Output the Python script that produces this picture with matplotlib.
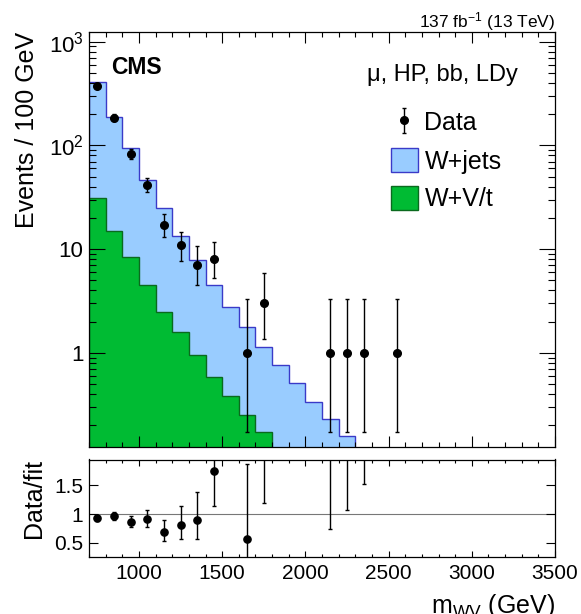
import matplotlib
matplotlib.use("Agg")
import numpy as np
import matplotlib.pyplot as plt
from matplotlib.patches import Patch
from matplotlib.ticker import MultipleLocator, LogLocator, FuncFormatter, NullFormatter, FixedLocator

plt.rcParams["font.family"] = ["Liberation Sans", "DejaVu Sans"]
plt.rcParams["mathtext.fontset"] = "custom"
plt.rcParams["mathtext.rm"] = "Liberation Sans"
plt.rcParams["mathtext.it"] = "Liberation Sans:italic"
plt.rcParams["mathtext.bf"] = "Liberation Sans:bold"
plt.rcParams["mathtext.default"] = "regular"

# -------------------------------------------------------
# Values
# -------------------------------------------------------
bin_edges = np.arange(700, 2400, 100)          # W+jets template, 700-2300
wvt_edges = np.arange(700, 1900, 100)          # W+V/t template, 700-1800

wjets = [374, 173.9, 85.65, 41.45, 22.22, 11.92, 6.84, 3.96,
         2.367, 1.507, 0.967, 0.757, 0.508, 0.34, 0.232, 0.16]
wvt = [31, 15.1, 8.35, 4.55, 2.48, 1.58, 0.96, 0.59, 0.383, 0.253, 0.173]

data_x = [750, 850, 950, 1050, 1150, 1250, 1350, 1450, 1650, 1750, 2150, 2250, 2350, 2550]
data_n = [376, 185, 82, 42, 17, 11, 7, 8, 1, 3, 1, 1, 1, 1]
data_lo = [357, 172, 73.4, 35.6, 13.0, 7.7, 4.5, 5.3, 0.173, 1.37, 0.173, 0.173, 0.173, 0.173]
data_hi = [396, 199, 91.6, 49.0, 21.6, 14.8, 10.7, 11.8, 3.30, 5.92, 3.30, 3.30, 3.30, 3.30]

ratio_x = [750, 850, 950, 1050, 1150, 1250, 1350, 1450, 1650, 1750, 2150, 2250, 2350]
ratio_y = [0.925, 0.97, 0.862, 0.914, 0.695, 0.816, 0.90, 1.747, 0.569, 2.63, 4.3, 6.25, 9.0]
ratio_lo = [0.88, 0.90, 0.77, 0.77, 0.53, 0.575, 0.57, 1.14, 0.10, 1.20, 0.74, 1.074, 1.53]
ratio_hi = [0.97, 1.03, 0.97, 1.07, 0.90, 1.14, 1.38, 2.40, 1.88, 5.2, 14.2, 20.6, 29.0]

# -------------------------------------------------------
# Style
# -------------------------------------------------------
BLUE_FILL = "#99ccff"
BLUE_LINE = "#3a3ac8"
GREEN_FILL = "#00bb33"
GREEN_LINE = "#0a6a1e"

W, H = 581, 614
fig = plt.figure(figsize=(W / 100, H / 100), dpi=100)
ax = fig.add_axes([89 / W, 1 - 447 / H, 466 / W, 415 / H])
axr = fig.add_axes([89 / W, 1 - 557.3 / H, 466 / W, 97.8 / H], sharex=ax)

# -------------------------------------------------------
# Top panel: stacked templates + data
# -------------------------------------------------------
wvt_full = np.zeros(len(wjets))
wvt_full[:len(wvt)] = wvt
stack_top = np.array(wjets) + wvt_full
base = 1e-3

ax.stairs(stack_top, bin_edges, baseline=base, fill=True, color=BLUE_FILL, lw=0)
ax.stairs(stack_top, bin_edges, baseline=base, fill=False, color=BLUE_LINE, lw=1.0)
ax.stairs(wvt, wvt_edges, baseline=base, fill=True, color=GREEN_FILL, lw=0)
ax.stairs(wvt, wvt_edges, baseline=base, fill=False, color=GREEN_LINE, lw=1.0)

yerr = [np.array(data_n) - np.array(data_lo), np.array(data_hi) - np.array(data_n)]
eb = ax.errorbar(data_x, data_n, yerr=yerr, fmt="o", color="black", ms=5.5,
                 elinewidth=1.0, capsize=1.5, capthick=1.0, zorder=5)

ax.set_yscale("log")
ax.set_xlim(700, 3500)
ax.set_ylim(0.124, 1240)

def log_label(v, pos):
    if abs(v - 1) < 1e-6:
        return "1"
    if abs(v - 10) < 1e-6:
        return "10"
    return "$10^{%d}$" % int(round(np.log10(v)))

ax.yaxis.set_major_locator(LogLocator(base=10, numticks=10))
ax.yaxis.set_minor_locator(LogLocator(base=10, subs=np.arange(2, 10), numticks=10))
ax.yaxis.set_major_formatter(FuncFormatter(log_label))
ax.yaxis.set_minor_formatter(NullFormatter())
ax.xaxis.set_major_locator(MultipleLocator(500))
ax.xaxis.set_minor_locator(MultipleLocator(100))

ax.tick_params(axis="both", which="both", direction="in", top=True, right=True,
               width=0.8, labelbottom=False)
ax.tick_params(axis="y", which="major", length=11.3, labelsize=16, pad=4)
ax.tick_params(axis="y", which="minor", length=5.3)
ax.tick_params(axis="x", which="major", length=7.9)
ax.tick_params(axis="x", which="minor", length=3.8)
for sp in ax.spines.values():
    sp.set_linewidth(0.9)

ax.set_ylabel("Events / 100 GeV", fontsize=18, loc="top", labelpad=7)

ax.text(0.0472, 0.8988, "CMS", transform=ax.transAxes, fontsize=16.5,
        fontweight="bold", ha="left", va="baseline")
ax.text(0.9213, 0.8827, "\u03bc, HP, bb, LDy", transform=ax.transAxes, fontsize=17,
        ha="right", va="baseline")
ax.text(1.0, 1.0113, "137 fb$^{-1}$ (13 TeV)", transform=ax.transAxes, fontsize=12.5,
        ha="right", va="baseline")

handles = [eb,
           Patch(facecolor=BLUE_FILL, edgecolor=BLUE_LINE, lw=1.0),
           Patch(facecolor=GREEN_FILL, edgecolor=GREEN_LINE, lw=1.0)]
labels = ["Data", "W+jets", "W+V/t"]
fig.legend(handles, labels, loc="upper left", bbox_to_anchor=(390.7 / W, 1 - 110 / H),
           frameon=False, fontsize=18, handlelength=1.1, handleheight=1.1,
           handletextpad=0.25, labelspacing=0.5, borderpad=0, borderaxespad=0)

# -------------------------------------------------------
# Ratio panel
# -------------------------------------------------------
axr.axhline(1.0, color="#777777", lw=0.8, zorder=1)
ryerr = [np.array(ratio_y) - np.array(ratio_lo), np.array(ratio_hi) - np.array(ratio_y)]
axr.errorbar(ratio_x, ratio_y, yerr=ryerr, fmt="o", color="black", ms=5.2,
             elinewidth=1.0, capsize=1.5, capthick=1.0, zorder=5)

axr.set_ylim(0.25, 1.95)
axr.yaxis.set_major_locator(FixedLocator([0.5, 1.0, 1.5]))
axr.yaxis.set_major_formatter(FuncFormatter(lambda v, p: "%g" % v))
axr.tick_params(axis="both", which="both", direction="in", top=True, right=True, width=0.8)
axr.tick_params(axis="y", which="major", length=6.2, labelsize=15, pad=4)
axr.tick_params(axis="x", which="major", length=4.1, labelsize=15, pad=5)
axr.tick_params(axis="x", which="minor", length=2.5)
for sp in axr.spines.values():
    sp.set_linewidth(0.9)

axr.set_ylabel("Data/fit", fontsize=18, loc="top", labelpad=6)
axr.set_xlabel("m$_{WV}$ (GeV)", fontsize=18, loc="right", labelpad=6)

fig.savefig("out.png", dpi=100)
